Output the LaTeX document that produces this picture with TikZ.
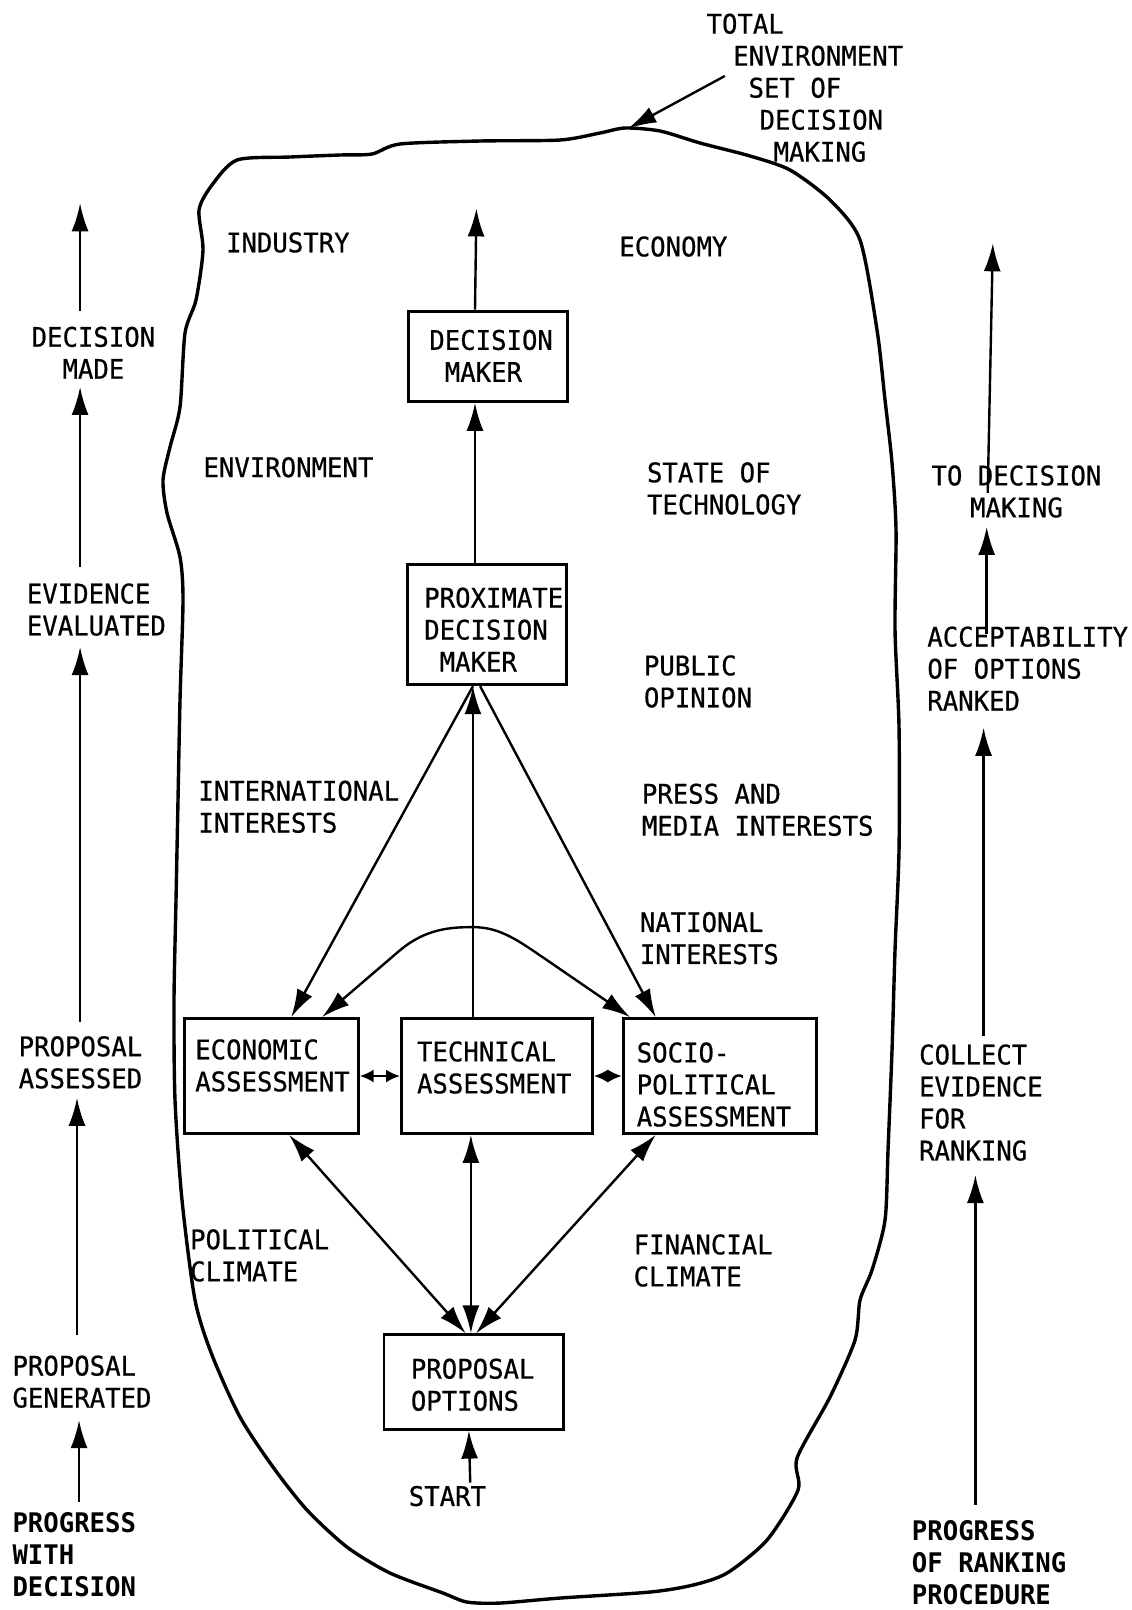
\documentclass[tikz,border=0pt]{standalone}
\usepackage{fontspec}
\usetikzlibrary{arrows.meta,calc,fit}
\newfontfamily\dmono[FakeStretch=0.95,UprightFeatures={FakeBold=0.6}]{DejaVu Sans Mono}
\newcommand\lblfont{\dmono\fontsize{27}{32}\selectfont}
\newcommand\lblbold{\dmono\bfseries\fontsize{27}{32}\selectfont}
\begin{document}
\begin{tikzpicture}[x=1.0267pt,y=-1.0267pt,
  lbl/.style={anchor=north west,inner sep=0pt,align=left,font=\lblfont},
  lblc/.style={anchor=north,inner sep=0pt,align=center,font=\lblfont},
  lblb/.style={anchor=north west,inner sep=0pt,align=left,font=\lblbold},
  box/.style={draw,line width=2.8pt,inner sep=0pt},
  arr/.style={line width=2.4pt,-{Latex[length=28pt,width=17pt]}},
  arrtwo/.style={line width=2.4pt,{Latex[length=28pt,width=17pt]}-{Latex[length=28pt,width=17pt]}},
  arrsm/.style={line width=2.4pt,{Latex[length=14pt,width=13pt]}-{Latex[length=14pt,width=13pt]}},
  blob/.style={line width=3.4pt,line join=round}]
\useasboundingbox (0,0) rectangle (1101.6,1568.1);

% outline of the total environment (true pixel coordinates)
\begin{scope}[scale=0.974]
\draw[blob] plot[smooth cycle,tension=0.45] coordinates {
 (237,160) (290,157) (340,155) (372,154) (400,144) (480,141) (560,140) (600,133)
 (625,128) (660,131) (700,143) (750,156) (790,170) (830,200) (860,240) (877,330)
 (885,400) (892,463) (896,530) (895,630) (899,727) (899,850) (895,950) (892,1050)
 (888,1150) (885,1220) (872,1270) (860,1300) (855,1340) (830,1397) (797,1458)
 (798,1490) (767,1540) (727,1573) (693,1585) (650,1592) (560,1598) (500,1603)
 (467,1602) (443,1593) (390,1573) (347,1547) (307,1510) (273,1467) (240,1417)
 (212,1355) (195,1300) (182,1200) (175,1100) (174,1000) (176,900) (178,800)
 (180,700) (183,600) (180,557) (167,513) (163,480) (170,447) (180,407) (185,333)
 (196,300) (203,250) (199,210) (212,185)};
\end{scope}

% boxes
\node[box,fit={(398,303) (553,391)}] (dm) {};
\node[box,fit={(397,550) (552,667)}] (pdm) {};
\node[box,fit={(180,992) (349,1104)}] (econ) {};
\node[box,fit={(391,992) (577,1104)}] (tech) {};
\node[box,fit={(607,992) (795,1104)}] (socio) {};
\node[box,fit={(374,1300) (549,1392)}] (po) {};

% box texts
\node[lbl] (dmt) at (418,321) {DECISION\\\phantom{X}MAKER};
\node[lbl] (pdmt) at (413,572) {PROXIMATE\\DECISION\\\phantom{X}MAKER};
\node[lbl] (econt) at (190,1012) {ECONOMIC\\ASSESSMENT};
\node[lbl] (techt) at (406,1014) {TECHNICAL\\ASSESSMENT};
\node[lbl] (sociot) at (620,1015) {SOCIO-\\POLITICAL\\ASSESSMENT};
\node[lbl] (pot) at (400,1323) {PROPOSAL\\OPTIONS};

% labels inside the outline
\node[lbl] (total) at (688,13) {TOTAL\\\hspace*{26.7pt}ENVIRONMENT\\\hspace*{42pt}SET OF\\\hspace*{53pt}DECISION\\\hspace*{67pt}MAKING};
\node[lbl] (ind) at (220,226) {INDUSTRY};
\node[lbl] (eco) at (603,230) {ECONOMY};
\node[lbl] (env) at (198,445) {ENVIRONMENT};
\node[lbl] (sot) at (630,450) {STATE OF\\TECHNOLOGY};
\node[lbl] (pub) at (627,638) {PUBLIC\\OPINION};
\node[lbl] (intl) at (193,760) {INTERNATIONAL\\INTERESTS};
\node[lbl] (press) at (625,763) {PRESS AND\\MEDIA INTERESTS};
\node[lbl] (nat) at (623,888) {NATIONAL\\INTERESTS};
\node[lbl] (pol) at (185,1197) {POLITICAL\\CLIMATE};
\node[lbl] (fin) at (617,1202) {FINANCIAL\\CLIMATE};
\node[lbl] (start) at (398,1447) {START};

% left column
\node[lblc] (dmade) at (91,318) {DECISION\\MADE};
\node[lbl] (ee) at (26,568) {EVIDENCE\\EVALUATED};
\node[lbl] (pa) at (18,1009) {PROPOSAL\\ASSESSED};
\node[lbl] (pg) at (12,1320) {PROPOSAL\\GENERATED};
\node[lblb] (pwd) at (12,1473) {PROGRESS\\WITH\\DECISION};

% right column
\node[lblc] (tdm) at (990,453) {TO DECISION\\MAKING};
\node[lbl] (acc) at (903,610) {ACCEPTABILITY\\OF OPTIONS\\RANKED};
\node[lbl] (cer) at (895,1017) {COLLECT\\EVIDENCE\\FOR\\RANKING};
\node[lblb] (prp) at (888,1481) {PROGRESS\\OF RANKING\\PROCEDURE};

% helper coordinates
\coordinate (blobtip) at (612,125);
\coordinate (totail) at (706,74);
\coordinate (dmtop) at (464,203);
\coordinate (lefttop) at (78,198);
\coordinate (rs) at (962,480);
\coordinate (rt) at (967,237);
\coordinate (cxA) at (77,0);
\coordinate (cxB) at (75,0);
\coordinate (cxC) at (78,0);
\coordinate (cxE) at (950,0);
\coordinate (cxF) at (958,0);
\coordinate (cxG) at (961,0);

% top label arrow
\draw[arr] (totail) -- (blobtip);

% central connectors
\draw[arr] ($(dm.north west)+(66,0)$) -- (dmtop);
\draw[arr] ($(pdm.north west)+(67,0)$) -- ($(dm.south west)+(66,0)$);
\draw[arr] ($(tech.north west)+(71,0)$) -- ($(pdm.south west)+(65,0)$);
\draw[arr] ($(pdm.south west)+(65,0)$) -- ($(econ.north west)+(105,0)$);
\draw[arr] ($(pdm.south west)+(72,0)$) -- ($(socio.north west)+(33,0)$);
\draw[arrtwo] ($(econ.north west)+(135,0)$) -- (389,926)
   .. controls (415,904) and (440,903) .. (461,903)
   .. controls (488,903) and (506,917) .. (534,936)
   -- ($(socio.north west)+(8,0)$);
\draw[arrsm] (econ.east) -- (tech.west);
\draw[arrsm] (tech.east) -- (socio.west);
\draw[arrtwo] ($(po.north west)+(81,0)$) -- ($(econ.south west)+(103,0)$);
\draw[arrtwo] ($(po.north west)+(86,0)$) -- ($(tech.south west)+(69,0)$);
\draw[arrtwo] ($(po.north west)+(91,0)$) -- ($(socio.south west)+(33,0)$);
\draw[arr] ($(start.north west)+(60,-3)$) -- ($(po.south west)+(84,0)$);

% left column arrows
\draw[arr,shorten <=10pt,shorten >=12pt] (pwd.north -| cxA) -- (pg.south -| cxA);
\draw[arr,shorten <=20pt,shorten >=9pt] (pg.north -| cxB) -- (pa.south -| cxB);
\draw[arr,shorten <=14pt,shorten >=11pt] (pa.north -| cxC) -- (ee.south -| cxC);
\draw[arr,shorten <=16pt,shorten >=8pt] (ee.north -| cxC) -- (dmade.south -| cxC);
\draw[arr,shorten <=16pt] (dmade.north -| cxC) -- (lefttop);

% right column arrows
\draw[arr,shorten <=16pt,shorten >=14pt] (prp.north -| cxE) -- (cer.south -| cxE);
\draw[arr,shorten <=8pt,shorten >=17pt] (cer.north -| cxF) -- (acc.south -| cxF);
\draw[arr,shorten <=-8pt,shorten >=9pt] (acc.north -| cxG) -- (tdm.south -| cxG);
\draw[arr] (rs) -- (rt);
\end{tikzpicture}
\end{document}
